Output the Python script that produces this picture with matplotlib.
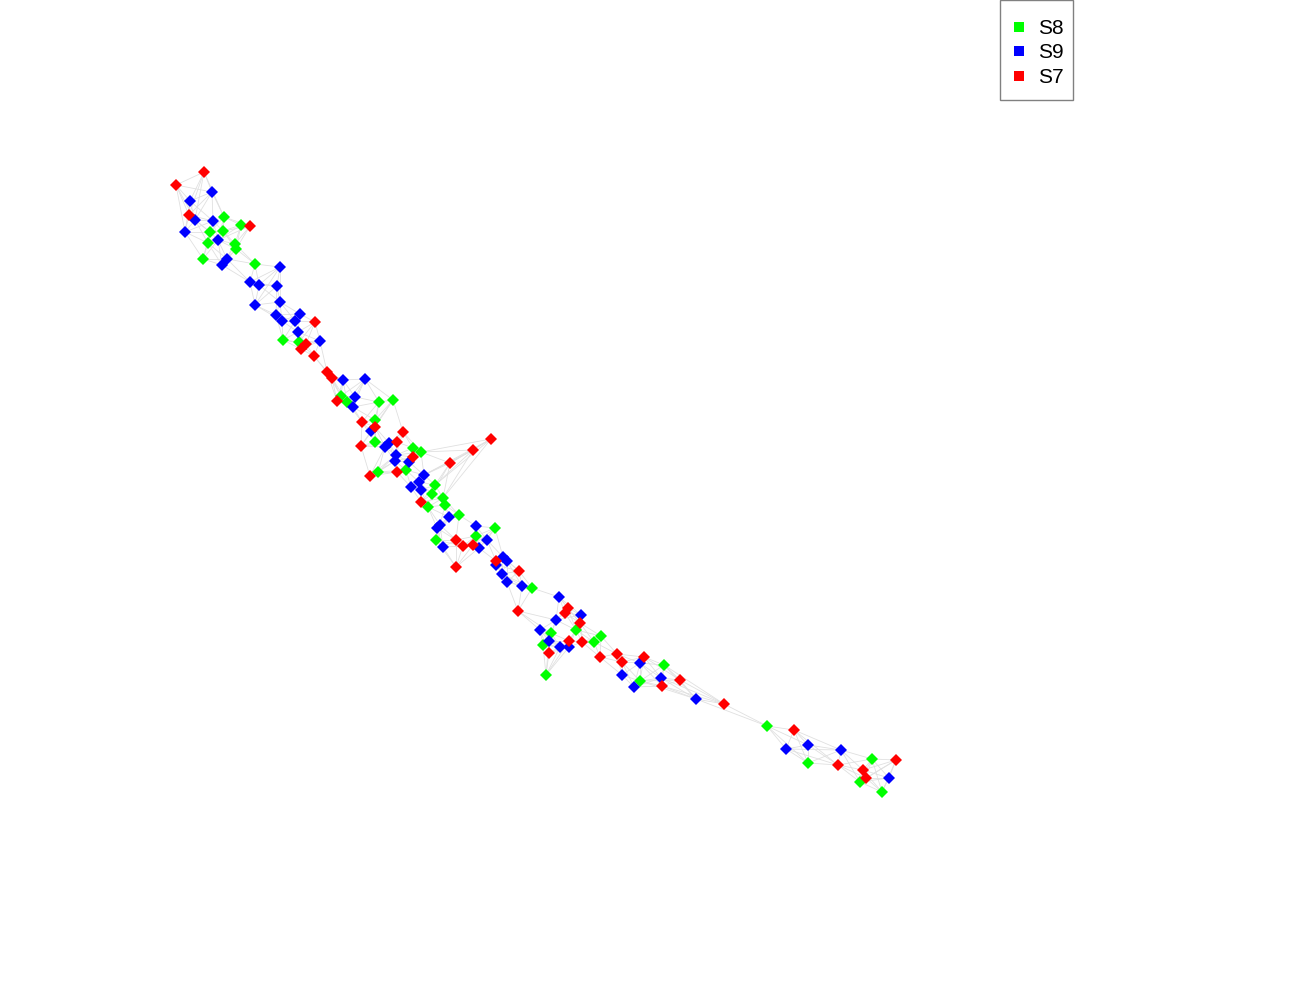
import numpy as np
import matplotlib
matplotlib.use("Agg")
import matplotlib.pyplot as plt
from matplotlib.lines import Line2D
from matplotlib.patches import Rectangle

# Node layout positions (pixel-like layout coordinates), per group
s8_x = [224, 241, 210, 223, 208, 235, 236, 203, 255, 283, 299, 341, 347, 379, 393, 375, 375, 413, 421, 378,
        406, 435, 432, 443, 445, 428, 459, 495, 476, 436, 532, 551, 576, 601, 543, 594, 664, 640, 546, 767,
        808, 872, 860, 882]
s8_y = [217, 225, 232, 231, 243, 244, 249, 259, 264, 340, 342, 396, 402, 402, 400, 420, 442, 448, 452, 472,
        470, 485, 494, 498, 505, 507, 515, 528, 536, 540, 588, 633, 630, 636, 645, 642, 665, 681, 675, 726,
        763, 759, 782, 792]

s9_x = [212, 190, 195, 213, 185, 218, 227, 222, 280, 250, 259, 277, 255, 280, 276, 282, 300, 295, 298, 320,
        343, 365, 355, 353, 371, 389, 385, 396, 395, 409, 424, 419, 411, 421, 449, 440, 437, 476, 487, 443,
        479, 503, 507, 496, 502, 507, 522, 559, 581, 556, 540, 549, 560, 569, 640, 622, 634, 661, 696, 808,
        786, 841, 889]
s9_y = [192, 201, 220, 221, 232, 240, 259, 265, 267, 282, 285, 286, 305, 302, 315, 321, 314, 321, 332, 341,
        380, 379, 397, 407, 431, 443, 447, 455, 461, 462, 475, 482, 487, 490, 517, 525, 528, 526, 540, 547,
        548, 557, 561, 565, 574, 582, 586, 597, 615, 620, 630, 641, 647, 647, 663, 675, 687, 678, 699, 745,
        749, 750, 778]

s7_x = [204, 176, 189, 250, 315, 306, 301, 314, 327, 332, 337, 362, 375, 403, 397, 361, 413, 450, 473, 491,
        370, 397, 421, 456, 463, 473, 496, 519, 456, 518, 568, 565, 580, 569, 582, 549, 600, 617, 622, 644,
        662, 680, 724, 794, 838, 896, 863, 866]
s7_y = [172, 185, 215, 226, 322, 344, 349, 356, 372, 378, 401, 422, 427, 432, 442, 446, 457, 463, 450, 439,
        476, 472, 502, 540, 546, 545, 561, 571, 567, 611, 608, 613, 623, 641, 642, 653, 657, 654, 662, 657,
        686, 680, 704, 730, 765, 760, 770, 778]

groups = ["S8", "S9", "S7"]
colors = {"S8": "#00ff00", "S9": "#0000ff", "S7": "#ff0000"}
xs = {"S8": s8_x, "S9": s9_x, "S7": s7_x}
ys = {"S8": s8_y, "S9": s9_y, "S7": s7_y}

plt.rcParams['font.family'] = ['Liberation Sans', 'DejaVu Sans']

W, H = 1300, 1000
fig = plt.figure(figsize=(13, 10), dpi=100)
ax = fig.add_axes([0, 0, 1, 1])
ax.set_xlim(0, W)
ax.set_ylim(H, 0)
ax.axis('off')

# edges: connect each node to its nearest neighbours in the layout
all_x = np.array(s8_x + s9_x + s7_x, dtype=float)
all_y = np.array(s8_y + s9_y + s7_y, dtype=float)
pts = np.column_stack([all_x, all_y])
d = np.hypot(pts[:, None, 0] - pts[None, :, 0], pts[:, None, 1] - pts[None, :, 1])
np.fill_diagonal(d, np.inf)
edges = set()
for i in range(len(pts)):
    for j in np.argsort(d[i])[:6]:
        edges.add((min(i, j), max(i, j)))
for i, j in edges:
    ax.plot([all_x[i], all_x[j]], [all_y[i], all_y[j]], color='#e0e0e0', lw=0.6, zorder=1)

for g in groups:
    ax.plot(xs[g], ys[g], linestyle='none', marker='D', ms=5.8, color=colors[g],
            markeredgewidth=0, zorder=3)

# legend box (frame drawn separately)
bx0, by0, bw, bh = 1000 / W, 1 - 100 / H, 73 / W, 100 / H
fig.patches.append(Rectangle((bx0, by0), bw, bh, transform=fig.transFigure, fill=False,
                             edgecolor='#808080', lw=1.0, zorder=5))
handles = [Line2D([], [], linestyle='none', marker='s', ms=6.5, color=colors[g], markeredgewidth=0)
           for g in groups]
leg = ax.legend(handles, groups, loc='center',
                bbox_to_anchor=(bx0 + 1 / W, by0 - 3 / H, bw, bh),
                bbox_transform=fig.transFigure, fontsize=15, frameon=False,
                borderaxespad=0, handlelength=0.8, handletextpad=0.5,
                labelspacing=0.27, borderpad=0.0)

fig.savefig('out.png', dpi=100)
